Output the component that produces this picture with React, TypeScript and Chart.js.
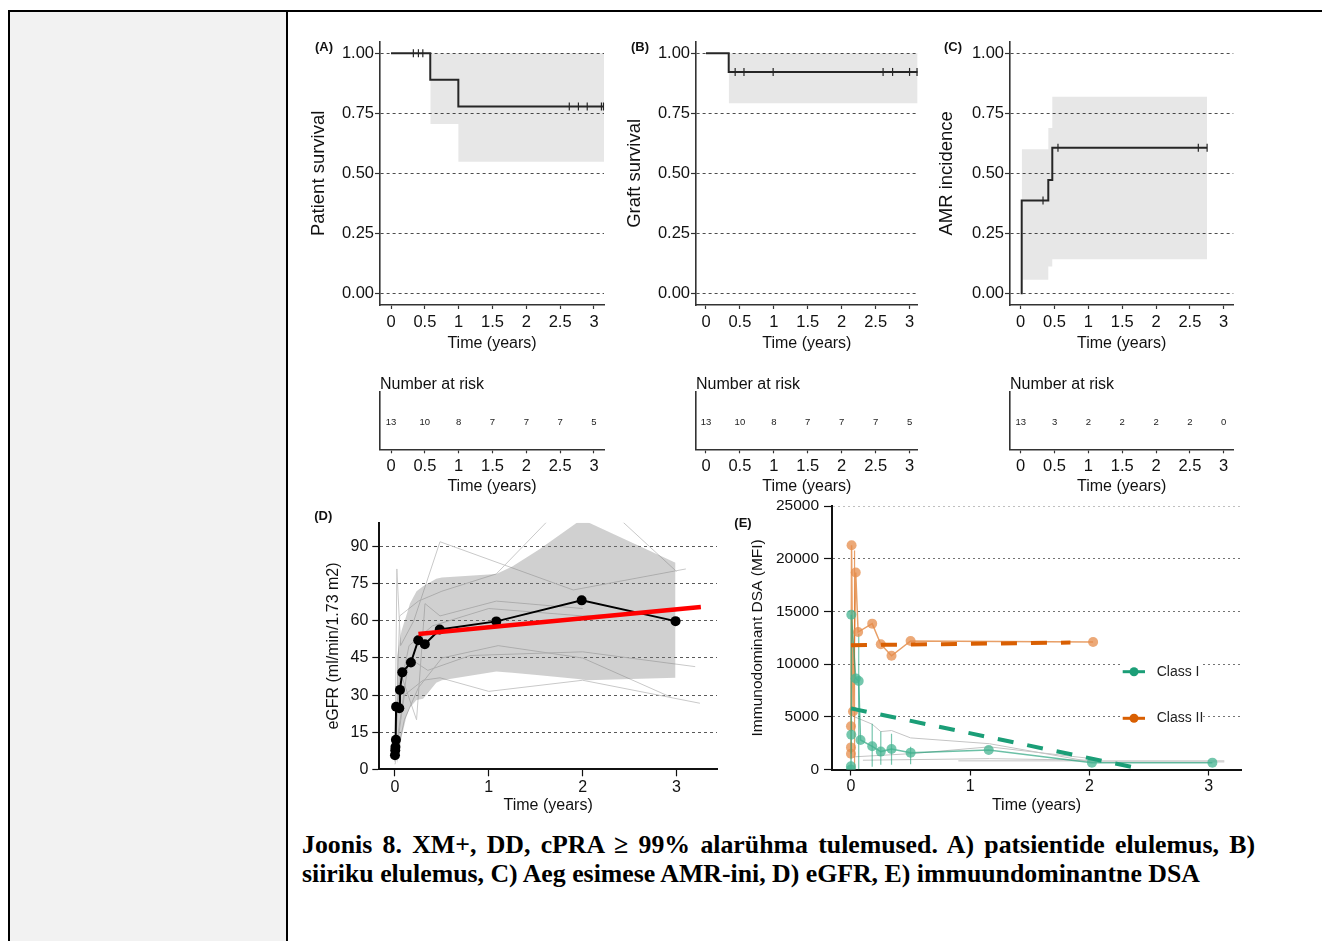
import React, { useEffect, useRef } from "react";
import { Chart, registerables } from "chart.js";

Chart.register(...registerables);

const SANS = '"Liberation Sans", Arial, Helvetica, sans-serif';
const SERIF = '"Liberation Serif", "Times New Roman", Times, serif';

// ================= DATA =================
const kmTicks = [0, 0.5, 1, 1.5, 2, 2.5, 3];
const kmTickLabels = ["0", "0.5", "1", "1.5", "2", "2.5", "3"];
const probTicks = [0, 0.25, 0.5, 0.75, 1];
const probTickLabels = ["0.00", "0.25", "0.50", "0.75", "1.00"];

// (A) patient survival
const aTime = [0, 0.58, 0.995, 3.14];
const aSurvival = [1, 0.889, 0.778, 0.778];
const aCensored = [0.33, 0.405, 0.47, 2.635, 2.77, 2.9, 3.11, 3.14];
const aBandTime = [0.58, 0.995, 3.148];
const aBandLower = [0.705, 0.548, 0.548];
const aBandUpper = [1, 1, 1];
const aAtRisk = [13, 10, 8, 7, 7, 7, 5];

// (B) graft survival
const bTime = [0, 0.335, 3.12];
const bSurvival = [1, 0.922, 0.922];
const bCensored = [0.43, 0.56, 0.99, 2.61, 2.75, 3.0, 3.11];
const bBandTime = [0.335, 3.12];
const bBandLower = [0.792, 0.792];
const bBandUpper = [1, 1];
const bAtRisk = [13, 10, 8, 7, 7, 7, 5];

// (C) AMR incidence
const cTime = [0, 0.015, 0.408, 0.467, 2.755];
const cIncidence = [0, 0.386, 0.472, 0.606, 0.606];
const cCensored = [0.33, 0.551, 2.625, 2.755];
const cBandTime = [0.015, 0.408, 0.467, 2.755];
const cBandLower = [0.056, 0.111, 0.142, 0.142];
const cBandUpper = [0.6, 0.688, 0.819, 0.819];
const cAtRisk = [13, 3, 2, 2, 2, 2, 0];
const riskRow = 0.47;

// (D) eGFR
const yearTicks = [0, 1, 2, 3];
const yearTickLabels = ["0", "1", "2", "3"];
const egfrTicks = [0, 15, 30, 45, 60, 75, 90];
const egfrTickLabels = ["0", "15", "30", "45", "60", "75", "90"];
const egfrMeanTime = [0, 0.003, 0.005, 0.01, 0.012, 0.046, 0.053, 0.078, 0.17, 0.248, 0.318, 0.477, 1.08, 1.99, 2.99];
const egfrMeanValue = [5.7, 7.7, 9, 11.9, 25.3, 24.7, 32.1, 39.2, 43.2, 52.2, 50.6, 56.5, 59.8, 68.3, 59.9];
const egfrFitTime = [0.25, 3.26];
const egfrFitValue = [54.7, 65.6];
const egfrBandTime = [0.02, 0.05, 0.07, 0.12, 0.16, 0.23, 0.3, 0.44, 0.5, 1.08, 1.25, 1.54, 1.95, 2.05, 2.99];
const egfrBandLower = [2, 8, 13, 21, 25, 28, 28.5, 35, 36, 39.5, 39, 38, 36.5, 36, 37];
const egfrBandUpper = [45, 52, 56, 62, 67, 72, 74, 77, 77.5, 79, 82, 89, 100, 100, 83.5];
const egfrPatientTimes = [
  [0, 0.02, 0.06, 0.2, 0.48, 1.9, 3.1],
  [0, 0.05, 0.23, 0.32, 0.48, 1.08, 2.0],
  [0.01, 0.1, 0.3, 0.48, 1.0, 2.0, 3.25],
  [0.01, 0.15, 0.35, 0.8, 2.0, 3.2],
  [0, 0.05, 0.25, 0.5, 1.08, 2.0, 3.0],
  [0, 0.03, 0.15, 0.4, 1.0, 2.0, 3.0],
  [0, 0.1, 0.25, 0.5, 1.1, 2.0, 2.95],
];
const egfrPatientValues = [
  [3, 81, 50, 60, 92, 72.5, 81],
  [5, 40, 20, 67, 62, 68, 65],
  [6, 30, 36, 37, 31.5, 36, 26.7],
  [8, 45, 40, 46, 47.5, 41.5],
  [7, 62, 68, 72, 79, 115, 80],
  [10, 28, 50, 58, 65, 62, 64],
  [2, 20, 33, 45, 50, 45, 29],
];

// (E) immunodominant DSA
const dsaTicks = [0, 5000, 10000, 15000, 20000, 25000];
const dsaTickLabels = ["0", "5000", "10000", "15000", "20000", "25000"];
const classITime = [0, 0, 0.003, 0.003, 0.04, 0.065, 0.08, 0.178, 0.25, 0.34, 0.5, 1.155, 2.02, 3.03];
const classIValue = [0, 300, 3300, 14700, 8650, 8400, 2800, 2200, 1700, 1950, 1600, 1850, 650, 650];
const classIBarTime = [0.065, 0.178, 0.25, 0.34, 0.5];
const classIBarLow = [0, 250, 450, 450, 500];
const classIBarHigh = [12900, 4350, 3600, 3400, 2150];
const classIITime = [0, 0, 0, 0.005, 0.017, 0.04, 0.06, 0.178, 0.25, 0.34, 0.5, 2.03];
const classIIValue = [1500, 2100, 4100, 21300, 5500, 18700, 13050, 13850, 11900, 10800, 12200, 12100];
const classIIBarTime = [0.03];
const classIIBarLow = [0];
const classIIBarHigh = [20800];
const classIFitTime = [0, 2.35];
const classIFitValue = [5800, 250];
const classIIFitTime = [0, 1.84];
const classIIFitValue = [11800, 12050];
const dsaPatientTimes = [
  [0.03, 0.178, 0.25, 0.34, 0.5, 1.16, 2.02, 3.13],
  [0.02, 0.5, 1.16, 2.02],
  [0.1, 1.16, 2.02],
  [0.9, 3.13],
];
const dsaPatientValues = [
  [5000, 4300, 3600, 3700, 3000, 2450, 720, 720],
  [1200, 1500, 2150, 1030],
  [880, 1030, 880],
  [820, 820],
];
const dsaLegendLabels = ["Class I", "Class II"];
const dsaLegendColors = ["#1b9e77", "#d95f02"];

// ================= HELPERS =================
const pts = (t: number[], v: number[]) => t.map((x, i) => ({ x, y: v[i] }));
const stepAt = (t: number[], v: number[], x: number) => {
  let val = v[0];
  for (let i = 0; i < t.length; i++) if (t[i] <= x) val = v[i];
  return val;
};

type Rect = { x: number; y: number; w: number; h: number };
type Area = { l: number; t: number; r: number; b: number };

function axisOptions(kind: "x" | "y", a: any, rect: Rect, area: Area) {
  const isX = kind === "x";
  const boxSize = isX ? rect.y + rect.h - area.b : area.l - rect.x;
  const tSize = a.titleSize ?? 16;
  const half = (tSize * 1.2) / 2;
  const titlePad =
    a.titleAt === undefined ? 0 : isX ? rect.y + rect.h - a.titleAt - half : a.titleAt - rect.x - half;
  const ticks: number[] = a.ticks ?? [];
  return {
    type: "linear",
    position: isX ? "bottom" : "left",
    min: a.min,
    max: a.max,
    afterBuildTicks: (s: any) => {
      s.ticks = ticks.map((v) => ({ value: v }));
    },
    afterFit: (s: any) => {
      if (isX) s.height = boxSize;
      else s.width = boxSize;
    },
    grid: {
      display: true,
      drawOnChartArea: !!a.gridColor,
      drawTicks: ticks.length > 0,
      tickLength: a.tickLen ?? 5,
      color: a.gridColor ?? "rgba(0,0,0,0)",
      lineWidth: 1,
      tickColor: a.axisColor ?? "#333",
      tickWidth: 1.2,
      tickBorderDash: [],
    },
    border: {
      display: true,
      color: a.axisColor ?? "#333",
      width: a.axisWidth ?? 1.6,
      dash: a.gridDash ?? [],
    },
    ticks: {
      display: !!a.labels,
      autoSkip: false,
      maxRotation: 0,
      minRotation: 0,
      padding: a.pad ?? 2,
      color: "#111",
      font: { family: SANS, size: a.fontSize ?? 16 },
      callback: (_v: any, i: number) => (a.labels ? a.labels[i] : ""),
    },
    title: a.title
      ? {
          display: true,
          text: a.title,
          color: "#111",
          font: { family: SANS, size: tSize },
          padding: isX ? { top: 0, bottom: titlePad } : { top: titlePad, bottom: 0 },
        }
      : { display: false },
  };
}

function buildConfig(spec: any) {
  const { rect, area } = spec;
  return {
    type: "line",
    data: { datasets: spec.datasets ?? [] },
    options: {
      responsive: false,
      maintainAspectRatio: false,
      animation: false,
      events: [],
      layout: { padding: { left: 0, top: area.t - rect.y, right: rect.x + rect.w - area.r, bottom: 0 } },
      plugins: { legend: { display: false }, tooltip: { enabled: false }, colors: { enabled: false } },
      elements: { line: { tension: 0 }, point: { radius: 0 } },
      scales: { x: axisOptions("x", spec.x, rect, area), y: axisOptions("y", spec.y, rect, area) },
    },
    plugins: spec.plugins ?? [],
  };
}

let pluginId = 0;
function letterPlugin(text: string, ax: number, ay: number, rect: Rect) {
  return {
    id: "letter" + pluginId++,
    afterDraw(chart: any) {
      const ctx = chart.ctx;
      ctx.save();
      ctx.font = `bold 13px ${SANS}`;
      ctx.fillStyle = "#111";
      ctx.textAlign = "center";
      ctx.textBaseline = "middle";
      ctx.fillText(text, ax - rect.x, ay - rect.y);
      ctx.restore();
    },
  };
}

function riskPlugin(counts: number[], rect: Rect, area: Area) {
  return {
    id: "risk" + pluginId++,
    afterDraw(chart: any) {
      const { ctx, scales } = chart;
      ctx.save();
      ctx.fillStyle = "#222";
      ctx.font = `9.5px ${SANS}`;
      ctx.textAlign = "center";
      ctx.textBaseline = "middle";
      counts.forEach((n, i) =>
        ctx.fillText(String(n), scales.x.getPixelForValue(kmTicks[i]), scales.y.getPixelForValue(riskRow))
      );
      ctx.font = `16px ${SANS}`;
      ctx.textAlign = "left";
      ctx.fillStyle = "#111";
      ctx.fillText("Number at risk", area.l - rect.x, 385 - rect.y);
      ctx.restore();
    },
  };
}

function legendPlugin(rect: Rect) {
  return {
    id: "dsaLegend",
    afterDraw(chart: any) {
      const ctx = chart.ctx;
      ctx.save();
      ctx.fillStyle = "#fff";
      ctx.fillRect(1120 - rect.x, 650 - rect.y, 83, 88);
      const ys = [671.7, 718.3];
      dsaLegendLabels.forEach((label, i) => {
        const y = ys[i] - rect.y;
        ctx.strokeStyle = dsaLegendColors[i];
        ctx.lineWidth = 3;
        ctx.beginPath();
        ctx.moveTo(1122.7 - rect.x, y);
        ctx.lineTo(1145 - rect.x, y);
        ctx.stroke();
        ctx.fillStyle = dsaLegendColors[i];
        ctx.beginPath();
        ctx.arc(1134 - rect.x, y, 4.5, 0, Math.PI * 2);
        ctx.fill();
        ctx.fillStyle = "#222";
        ctx.font = `14px ${SANS}`;
        ctx.textAlign = "left";
        ctx.textBaseline = "middle";
        ctx.fillText(label, 1156.7 - rect.x, y);
      });
      ctx.restore();
    },
  };
}

function kmDatasets(t: number[], s: number[], cens: number[], bt: number[], bl: number[], bu: number[]) {
  return [
    {
      data: pts(t, s),
      stepped: "before",
      borderColor: "#262626",
      borderWidth: 2,
      pointRadius: 0,
      fill: false,
      order: 1,
    },
    {
      data: cens.map((x) => ({ x, y: stepAt(t, s, x) })),
      showLine: false,
      pointStyle: "line",
      pointRotation: 90,
      pointRadius: 4,
      pointBorderColor: "#262626",
      pointBorderWidth: 1.2,
      borderColor: "#262626",
      order: 0,
      clip: false,
    },
    {
      data: pts(bt, bl),
      stepped: "before",
      borderWidth: 0,
      borderColor: "rgba(0,0,0,0)",
      pointRadius: 0,
      fill: false,
      order: 6,
    },
    {
      data: pts(bt, bu),
      stepped: "before",
      borderWidth: 0,
      borderColor: "rgba(0,0,0,0)",
      pointRadius: 0,
      fill: "-1",
      backgroundColor: "rgba(0,0,0,0.095)",
      order: 5,
    },
  ];
}

// ================= PANEL SPECS =================
const kmY = { min: -0.049, max: 1.048, ticks: probTicks, labels: probTickLabels, fontSize: 16.5, tickLen: 5, pad: 1, titleSize: 18.5, gridColor: "rgba(0,0,0,0.7)", gridDash: [3, 3] };

const rectA = { x: 300, y: 30, w: 315, h: 330 };
const areaA = { l: 380, t: 41.7, r: 604, b: 305 };
const rectB = { x: 616, y: 30, w: 314, h: 330 };
const areaB = { l: 696, t: 41.7, r: 917.7, b: 305 };
const rectC = { x: 930, y: 30, w: 320, h: 330 };
const areaC = { l: 1010, t: 41.7, r: 1233.3, b: 305 };

const xA = { min: -0.163, max: 3.148 };
const xB = { min: -0.147, max: 3.12 };
const xC = { min: -0.158, max: 3.142 };

const kmX = (r: any, titleAt: number, tickLen: number, pad: number) => ({
  ...r,
  ticks: kmTicks,
  labels: kmTickLabels,
  fontSize: 16.5,
  tickLen,
  pad,
  title: "Time (years)",
  titleSize: 16,
  titleAt,
});

const specA = {
  rect: rectA,
  area: areaA,
  x: kmX(xA, 344, 4, 3.1),
  y: { ...kmY, title: "Patient survival", titleAt: 319 },
  datasets: kmDatasets(aTime, aSurvival, aCensored, aBandTime, aBandLower, aBandUpper),
  plugins: [letterPlugin("(A)", 324, 47, rectA)],
};
const specB = {
  rect: rectB,
  area: areaB,
  x: kmX(xB, 344, 4, 3.1),
  y: { ...kmY, title: "Graft survival", titleAt: 635 },
  datasets: kmDatasets(bTime, bSurvival, bCensored, bBandTime, bBandLower, bBandUpper),
  plugins: [letterPlugin("(B)", 640, 47, rectB)],
};
const specC = {
  rect: rectC,
  area: areaC,
  x: kmX(xC, 344, 4, 3.1),
  y: { ...kmY, title: "AMR incidence", titleAt: 946.7 },
  datasets: kmDatasets(cTime, cIncidence, cCensored, cBandTime, cBandLower, cBandUpper),
  plugins: [letterPlugin("(C)", 953, 47, rectC)],
};

const riskSpec = (rect: Rect, area: Area, xr: any, counts: number[]) => ({
  rect,
  area,
  x: kmX(xr, 487, 4, 3.6),
  y: { min: 0, max: 1 },
  datasets: [],
  plugins: [riskPlugin(counts, rect, area)],
});
const rectRA = { x: 300, y: 372, w: 315, h: 128 };
const rectRB = { x: 616, y: 372, w: 314, h: 128 };
const rectRC = { x: 930, y: 372, w: 320, h: 128 };
const specRA = riskSpec(rectRA, { l: 380, t: 391.7, r: 604, b: 449.3 }, xA, aAtRisk);
const specRB = riskSpec(rectRB, { l: 696, t: 391.7, r: 917.7, b: 449.3 }, xB, bAtRisk);
const specRC = riskSpec(rectRC, { l: 1010, t: 391.7, r: 1233.3, b: 449.3 }, xC, cAtRisk);

const rectD = { x: 300, y: 505, w: 422, h: 315 };
const specD = {
  rect: rectD,
  area: { l: 379.3, t: 522.7, r: 718.3, b: 769.3 },
  x: { min: -0.167, max: 3.432, ticks: yearTicks, labels: yearTickLabels, fontSize: 16, tickLen: 7, pad: 1.2, title: "Time (years)", titleSize: 16, titleAt: 806, axisColor: "#111", axisWidth: 2 },
  y: { min: 0, max: 99.7, ticks: egfrTicks, labels: egfrTickLabels, fontSize: 16, tickLen: 7, pad: 4, title: "eGFR (ml/min/1.73 m2)", titleSize: 16, titleAt: 333.3, gridColor: "rgba(0,0,0,0.65)", gridDash: [3, 3], axisColor: "#111", axisWidth: 2 },
  datasets: [
    ...egfrPatientTimes.map((t, i) => ({
      data: pts(t, egfrPatientValues[i]),
      borderColor: "#c9c9c9",
      borderWidth: 1,
      pointRadius: 0,
      fill: false,
      order: 10,
    })),
    { data: pts(egfrBandTime, egfrBandLower), borderColor: "rgba(0,0,0,0)", borderWidth: 0, pointRadius: 0, fill: false, order: 9 },
    { data: pts(egfrBandTime, egfrBandUpper), borderColor: "rgba(0,0,0,0)", borderWidth: 0, pointRadius: 0, fill: "-1", backgroundColor: "rgba(120,120,120,0.35)", order: 8 },
    { data: pts(egfrMeanTime, egfrMeanValue), borderColor: "#000", borderWidth: 2, pointRadius: 5, pointBackgroundColor: "#000", pointBorderWidth: 0, fill: false, order: 2 },
    { data: pts(egfrFitTime, egfrFitValue), borderColor: "#ff0000", borderWidth: 4.5, pointRadius: 0, fill: false, order: 1 },
  ],
  plugins: [letterPlugin("(D)", 323.3, 516.7, rectD)],
};

const rectE = { x: 722, y: 490, w: 535, h: 328 };
const specE = {
  rect: rectE,
  area: { l: 832, t: 506.2, r: 1241, b: 769.5 },
  x: { min: -0.159, max: 3.27, ticks: yearTicks, labels: yearTickLabels, fontSize: 16, tickLen: 6, pad: 1.9, title: "Time (years)", titleSize: 16, titleAt: 806, axisColor: "#111", axisWidth: 2 },
  y: {
    min: 0,
    max: 25000,
    ticks: dsaTicks,
    labels: dsaTickLabels,
    fontSize: 15.5,
    tickLen: 8,
    pad: 5,
    title: "Immunodominant DSA (MFI)",
    titleSize: 15.5,
    titleAt: 758,
    gridColor: (c: any) => (c.tick && c.tick.value === 25000 ? "rgba(0,0,0,0.25)" : "rgba(0,0,0,0.55)"),
    gridDash: [2, 3],
    axisColor: "#111",
    axisWidth: 2,
  },
  datasets: [
    ...dsaPatientTimes.map((t, i) => ({
      data: pts(t, dsaPatientValues[i]),
      borderColor: "#c4c4c4",
      borderWidth: 1,
      pointRadius: 0,
      fill: false,
      order: 10,
    })),
    ...classIBarTime.map((t, i) => ({
      data: [{ x: t, y: classIBarLow[i] }, { x: t, y: classIBarHigh[i] }],
      borderColor: "rgba(27,158,119,0.6)",
      borderWidth: 1.2,
      pointRadius: 0,
      fill: false,
      order: 7,
    })),
    ...classIIBarTime.map((t, i) => ({
      data: [{ x: t, y: classIIBarLow[i] }, { x: t, y: classIIBarHigh[i] }],
      borderColor: "rgba(217,95,2,0.6)",
      borderWidth: 1.2,
      pointRadius: 0,
      fill: false,
      order: 7,
    })),
    {
      data: pts(classIITime, classIIValue),
      borderColor: "rgba(217,95,2,0.6)",
      borderWidth: 1.5,
      pointRadius: 5,
      pointBackgroundColor: "rgba(230,140,75,0.75)",
      pointBorderWidth: 0,
      fill: false,
      order: 5,
    },
    {
      data: pts(classITime, classIValue),
      borderColor: "rgba(27,158,119,0.65)",
      borderWidth: 1.5,
      pointRadius: 5,
      pointBackgroundColor: "rgba(70,180,145,0.75)",
      pointBorderWidth: 0,
      fill: false,
      order: 4,
    },
    { data: pts(classIIFitTime, classIIFitValue), borderColor: "#d95f02", borderWidth: 4, borderDash: [16, 14], pointRadius: 0, fill: false, order: 2 },
    { data: pts(classIFitTime, classIFitValue), borderColor: "#1b9e77", borderWidth: 4, borderDash: [16, 14], pointRadius: 0, fill: false, order: 2 },
  ],
  plugins: [letterPlugin("(E)", 743, 523, rectE), legendPlugin(rectE)],
};

// ================= COMPONENTS =================
function ChartBox({ spec }: { spec: any }) {
  const ref = useRef<HTMLCanvasElement | null>(null);
  useEffect(() => {
    if (!ref.current) return;
    const chart = new Chart(ref.current, buildConfig(spec) as any);
    return () => chart.destroy();
  }, [spec]);
  const r = spec.rect;
  return (
    <canvas
      ref={ref}
      width={r.w}
      height={r.h}
      style={{ position: "absolute", left: r.x, top: r.y, width: r.w, height: r.h }}
    />
  );
}

const captionStyle: React.CSSProperties = {
  position: "absolute",
  left: 302,
  fontFamily: SERIF,
  fontWeight: "bold",
  fontSize: 25.8,
  lineHeight: "29px",
  color: "#000",
};

export default function App() {
  return (
    <div style={{ position: "absolute", left: 0, top: 0, width: 1322, height: 941, overflow: "hidden", background: "#fff" }}>
      <div style={{ position: "absolute", left: 9.5, top: 12, width: 276.5, height: 929, background: "#f2f2f2" }} />
      <div style={{ position: "absolute", left: 8, top: 10, width: 1314, height: 2, background: "#000" }} />
      <div style={{ position: "absolute", left: 8, top: 10, width: 1.5, height: 931, background: "#000" }} />
      <div style={{ position: "absolute", left: 286, top: 10, width: 2, height: 931, background: "#000" }} />
      <ChartBox spec={specA} />
      <ChartBox spec={specB} />
      <ChartBox spec={specC} />
      <ChartBox spec={specRA} />
      <ChartBox spec={specRB} />
      <ChartBox spec={specRC} />
      <ChartBox spec={specD} />
      <ChartBox spec={specE} />
      <div style={{ ...captionStyle, top: 829.5, width: 953, textAlign: "justify", textAlignLast: "justify" }}>
        Joonis 8. XM+, DD, cPRA ≥ 99% alarühma tulemused. A) patsientide elulemus, B)
      </div>
      <div style={{ ...captionStyle, top: 858.5, whiteSpace: "nowrap" }}>
        siiriku elulemus, C) Aeg esimese AMR-ini, D) eGFR, E) immuundominantne DSA
      </div>
    </div>
  );
}
